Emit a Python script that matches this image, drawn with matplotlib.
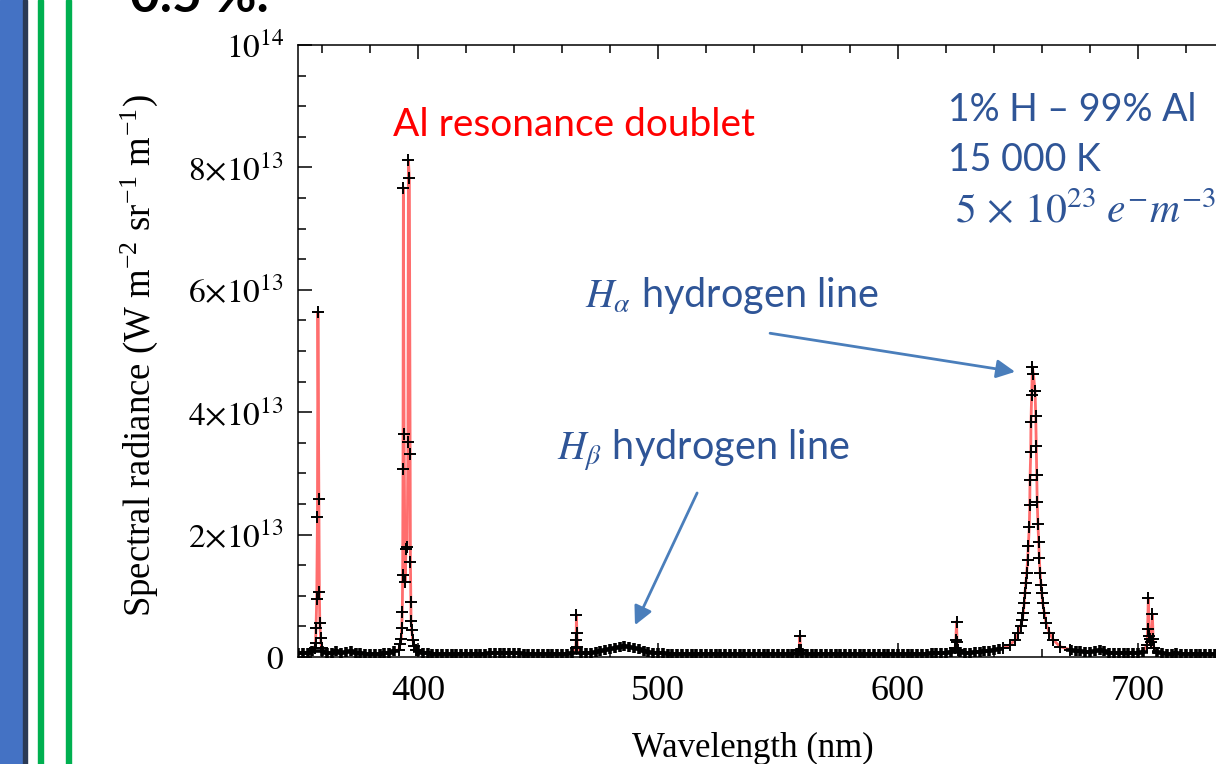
import matplotlib
matplotlib.use("Agg")
import matplotlib.pyplot as plt
import matplotlib.patches as patches
import matplotlib.ticker as mticker
import numpy as np

plt.rcParams['mathtext.fontset'] = 'stix'
plt.rcParams['font.family'] = ['Liberation Serif', 'DejaVu Serif']

red = "#FF3030"
txt_blue = "#2F5597"
arrow_blue = "#4A7EBB"
nan = np.nan

# baseline samples, every 2 nm from 350 nm (nan where a line profile below covers it)
base_start = 350
base_rad = [
    0.06, 0.06, 0.07, 0.10, nan, 0.10, 0.07, 0.06, 0.09, 0.06,   # 350-368
    0.08, 0.09, 0.06, 0.07, 0.05, 0.05, 0.05, 0.05, 0.06, 0.07,  # 370-388
    0.09, nan, nan, nan, nan, 0.09, 0.07, 0.06, 0.05, 0.05,      # 390-408
    0.05, 0.05, 0.05, 0.05, 0.05, 0.05, 0.05, 0.05, 0.05, 0.05,  # 410-428
    0.06, 0.06, 0.07, 0.07, 0.07, 0.06, 0.06, 0.05, 0.05, 0.05,  # 430-448
    0.05, 0.05, 0.05, 0.05, 0.05, 0.05, 0.05, 0.06, nan, 0.06,   # 450-468
    0.06, 0.07, 0.08, 0.09, 0.11, 0.13, 0.15, 0.17, 0.18, 0.17,  # 470-488
    0.15, 0.13, 0.10, 0.08, 0.07, 0.06, 0.06, 0.05, 0.05, 0.05,  # 490-508
    0.05, 0.05, 0.05, 0.05, 0.05, 0.05, 0.05, 0.05, 0.05, 0.05,  # 510-528
    0.05, 0.05, 0.05, 0.05, 0.05, 0.05, 0.05, 0.05, 0.05, 0.05,  # 530-548
    0.05, 0.05, 0.05, 0.05, 0.06, 0.06, 0.05, 0.05, 0.05, 0.05,  # 550-568
    0.05, 0.05, 0.05, 0.05, 0.05, 0.05, 0.05, 0.05, 0.05, 0.05,  # 570-588
    0.05, 0.05, 0.05, 0.05, 0.05, 0.05, 0.05, 0.05, 0.05, 0.05,  # 590-608
    0.05, 0.05, 0.06, 0.06, 0.06, 0.07, 0.08, nan, 0.08, 0.07,   # 610-628
    0.07, 0.08, 0.08, 0.09, 0.10, 0.11, 0.13, nan, nan, nan,     # 630-648
    nan, nan, nan, nan, nan, nan, nan, nan, nan, nan,            # 650-668
    nan, 0.11, 0.10, 0.09, 0.08, 0.08, 0.09, 0.11, 0.09, 0.07,   # 670-688
    0.07, 0.06, 0.06, 0.06, 0.06, 0.06, 0.08, nan, nan, 0.08,    # 690-708
    0.06, 0.05, 0.05, 0.06, 0.05, 0.05, 0.05, 0.05, 0.05, 0.05,  # 710-728
    0.05, 0.05, 0.05, 0.05, 0.05, 0.05, 0.05, 0.05, 0.05, 0.05,  # 730-748
]

# line profiles (nm, 1e13 W m-2 sr-1 m-1)
al358_wl = [357.0, 357.3, 357.5, 357.8, 358.1, 358.3, 358.7, 358.9, 359.1, 359.4, 359.8]
al358_rad = [0.15, 0.23, 0.47, 0.95, 2.29, 5.64, 2.58, 1.06, 0.55, 0.31, 0.15]

al_doublet_wl = [392.0, 392.6, 393.0, 393.2, 393.46, 393.6, 393.75, 393.9, 394.2, 394.6,
                 395.0, 395.5, 395.8, 396.0, 396.4, 396.7, 396.85, 397.0, 397.1, 397.4,
                 397.8, 398.4, 399.2]
al_doublet_rad = [0.12, 0.22, 0.30, 0.47, 0.74, 1.34, 3.08, 7.67, 3.65, 1.23,
                  1.76, 1.79, 3.51, 8.12, 7.83, 3.32, 1.56, 0.90, 0.59, 0.44,
                  0.28, 0.18, 0.12]

l466_wl = [465.7, 465.9, 466.0, 466.2, 466.4]
l466_rad = [0.15, 0.28, 0.69, 0.39, 0.17]

l559_wl = [558.8, 559.1, 559.4]
l559_rad = [0.12, 0.34, 0.11]

l624_wl = [623.8, 624.1, 624.4, 624.6, 624.9]
l624_rad = [0.15, 0.28, 0.58, 0.25, 0.12]

h_alpha_wl = [643.9, 646.7, 648.8, 650.1, 651.1, 651.8, 652.2, 652.6, 652.9, 653.3,
              653.6, 654.0, 654.3, 654.7, 654.9, 655.0, 655.3, 655.4, 655.7, 656.0,
              656.4, 657.1, 657.4, 657.6, 657.8, 658.0, 658.3, 658.6, 658.9, 659.2,
              659.6, 659.9, 660.3, 661.0, 661.7, 663.1, 664.7, 667.5, 671.7]
h_alpha_rad = [0.15, 0.20, 0.28, 0.39, 0.50, 0.61, 0.72, 0.88, 1.05, 1.21,
               1.37, 1.58, 1.81, 2.13, 2.48, 2.89, 3.35, 3.84, 4.28, 4.74,
               4.63, 4.34, 3.93, 3.44, 2.97, 2.54, 2.18, 1.88, 1.61, 1.37,
               1.18, 1.05, 0.88, 0.72, 0.55, 0.39, 0.28, 0.17, 0.12]

l705_wl = [703.8, 704.0, 704.3, 704.6, 705.0, 705.4, 706.0, 706.3, 706.6]
l705_rad = [0.20, 0.45, 0.96, 0.35, 0.30, 0.25, 0.70, 0.30, 0.15]

y_ticks = [0, 2e13, 4e13, 6e13, 8e13, 1e14]
y_ticklabels = [r'$0$', r'$2{\times}10^{13}$', r'$4{\times}10^{13}$',
                r'$6{\times}10^{13}$', r'$8{\times}10^{13}$', r'$10^{14}$']

# assemble the spectrum
base_wl = base_start + 2 * np.arange(len(base_rad))
base_rad = np.array(base_rad)
keep = ~np.isnan(base_rad)
lines_wl = np.concatenate([al358_wl, al_doublet_wl, l466_wl, l559_wl,
                           l624_wl, h_alpha_wl, l705_wl])
lines_rad = np.concatenate([al358_rad, al_doublet_rad, l466_rad, l559_rad,
                            l624_rad, h_alpha_rad, l705_rad])
wl = np.concatenate([base_wl[keep], lines_wl])
rad = np.concatenate([base_rad[keep], lines_rad]) * 1e13
order = np.argsort(wl)
wl = wl[order]
rad = rad[order]

fig = plt.figure(figsize=(12.16, 7.64), dpi=100)

# slide decoration on the left
fig.patches.append(patches.Rectangle((0, 0), 23/1216, 1, transform=fig.transFigure,
                                     color="#4472C4", zorder=0))
fig.patches.append(patches.Rectangle((23/1216, 0), 4/1216, 1, transform=fig.transFigure,
                                     color="#2B3A55", zorder=0))
fig.patches.append(patches.Rectangle((38/1216, 0), 5/1216, 1, transform=fig.transFigure,
                                     color="#00B050", zorder=0))
fig.patches.append(patches.Rectangle((66/1216, 0), 5/1216, 1, transform=fig.transFigure,
                                     color="#00B050", zorder=0))
fig.text(130/1216, 1 - 12/764, '0.5 %.', fontsize=37, fontweight='bold',
         family='Lato', va='baseline', ha='left')

ax = fig.add_axes([298/1216, 1 - 657/764, 960/1216, 612/764])
ax.plot(wl, rad, color=red, lw=2, alpha=0.7, zorder=2)
ax.plot(base_wl[keep], base_rad[keep] * 1e13, '+', color='k', ms=7, mew=2.6, zorder=3)
ax.plot(lines_wl, lines_rad * 1e13, '+', color='k', ms=8, mew=1.4, zorder=3)

ax.set_xlim(350, 750)
ax.set_ylim(0, 1e14)
ax.xaxis.set_major_locator(mticker.MultipleLocator(100))
ax.xaxis.set_minor_locator(mticker.MultipleLocator(20))
ax.set_yticks(y_ticks)
ax.set_yticklabels(y_ticklabels)
ax.yaxis.set_minor_locator(mticker.MultipleLocator(0.5e13))
ax.tick_params(which='both', direction='in', top=True, right=True, width=1.1)
ax.tick_params(which='major', length=10)
ax.tick_params(which='minor', length=6)
ax.tick_params(axis='x', labelsize=26, pad=13)
ax.tick_params(axis='y', labelsize=24, pad=10)
for s in ax.spines.values():
    s.set_linewidth(1.1)

ax.set_xlabel('Wavelength (nm)', fontsize=25)
ax.xaxis.set_label_coords((753 - 298) / 960, -0.122)
ax.set_ylabel(r'Spectral radiance (W m$^{\mathregular{-2}}$ sr$^{\mathregular{-1}}$ m$^{\mathregular{-1}}$)',
              fontsize=26.5)
ax.yaxis.set_label_coords((160 - 298) / 960, (657 - 356) / 612)

# annotations
fig.text(393/1216, 1 - 125/764, 'Al resonance doublet', color='#FF0000', fontsize=28,
         family='Lato', va='center', ha='left')
fig.text(948/1216, 1 - 110/764, '1% H \u2013 99% Al', color=txt_blue, fontsize=27,
         family='Lato', va='center', ha='left')
fig.text(948/1216, 1 - 160/764, '15 000 K', color=txt_blue, fontsize=27,
         family='Lato', va='center', ha='left')
fig.text(955/1216, 1 - 212/764, r'$5\,\times\,10^{23}\;e^{-}m^{-3}$', color=txt_blue,
         fontsize=30, va='center', ha='left')
fig.text(585/1216, 1 - 295/764, r'$H_\alpha$ hydrogen line', color=txt_blue, fontsize=28.5,
         family='Lato', va='center', ha='left')
fig.text(557/1216, 1 - 450/764, r'$H_\beta$ hydrogen line', color=txt_blue, fontsize=28.5,
         family='Lato', va='center', ha='left')

ax.annotate('', xy=(648.8, 4.66e13), xytext=(546.7, 5.29e13),
            arrowprops=dict(arrowstyle='-|>', color=arrow_blue, lw=2,
                            mutation_scale=28, shrinkA=0, shrinkB=0))
ax.annotate('', xy=(490.4, 0.52e13), xytext=(516.3, 2.68e13),
            arrowprops=dict(arrowstyle='-|>', color=arrow_blue, lw=2,
                            mutation_scale=28, shrinkA=0, shrinkB=0))

plt.savefig("out.png", dpi=100)
